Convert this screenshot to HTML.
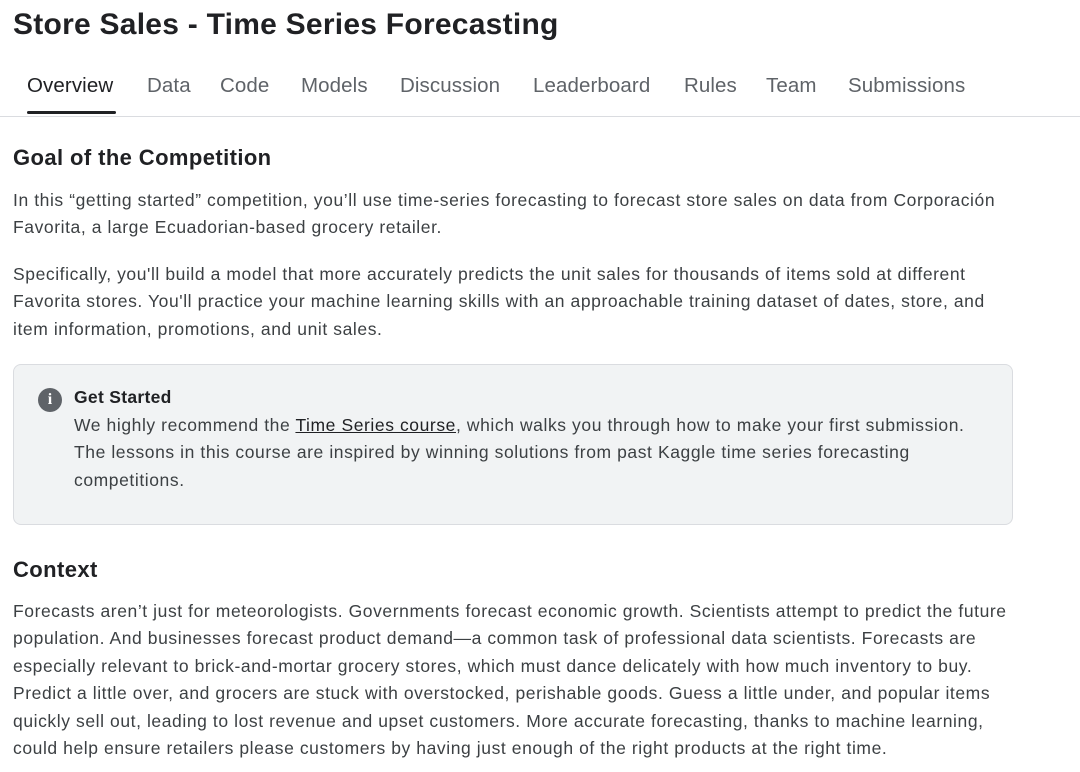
<!DOCTYPE html>
<html><head><meta charset="utf-8"><style>
body{margin:0;width:1080px;height:772px;overflow:hidden;background:#fff;font-family:"Liberation Sans",sans-serif;color:#202124}
h1{position:absolute;left:13px;top:8px;margin:0;font-size:30px;font-weight:bold;letter-spacing:0.25px;white-space:nowrap}
.tabs{position:absolute;left:0;top:70px;width:1080px;height:46px;border-bottom:1px solid #dadce0}
.tab{position:absolute;top:4px;font-size:20.5px;color:#5f6368;letter-spacing:0.1px}
.tab.active{color:#202124}
.ul{position:absolute;left:27px;top:41px;width:89px;height:3px;background:#202124;border-radius:2px}
h2{position:absolute;left:13px;margin:0;font-size:22px;font-weight:bold;letter-spacing:0.4px}
p{position:absolute;left:13px;margin:0;font-size:17.5px;line-height:27.4px;color:#3c4043;white-space:nowrap;letter-spacing:0.58px}
.box{position:absolute;left:13px;top:364px;width:998px;height:159px;background:#f1f3f4;border:1px solid #dadce0;border-radius:8px}
.icon{position:absolute;left:24px;top:23px;width:24px;height:24px;border-radius:50%;background:#5f6368;color:#fff;font-weight:bold;font-size:16px;text-align:center;line-height:24px;font-family:"Liberation Serif",serif}
.box b{position:absolute;left:60px;top:22px;font-size:17.5px;letter-spacing:0.3px}
.box p{left:60px;top:47px}
a{color:#202124;text-decoration:underline}
</style></head><body>
<h1>Store Sales - Time Series Forecasting</h1>
<div class="tabs">
<span class="tab active" style="left:27px">Overview</span>
<span class="tab" style="left:147px">Data</span>
<span class="tab" style="left:220px">Code</span>
<span class="tab" style="left:301px">Models</span>
<span class="tab" style="left:400px">Discussion</span>
<span class="tab" style="left:533px">Leaderboard</span>
<span class="tab" style="left:684px">Rules</span>
<span class="tab" style="left:766px">Team</span>
<span class="tab" style="left:848px">Submissions</span>
<div class="ul"></div>
</div>
<h2 style="top:145px">Goal of the Competition</h2>
<p style="top:187px">In this “getting started” competition, you’ll use time-series forecasting to forecast store sales on data from Corporación<br>Favorita, a large Ecuadorian-based grocery retailer.</p>
<p style="top:261px">Specifically, you'll build a model that more accurately predicts the unit sales for thousands of items sold at different<br>Favorita stores. You'll practice your machine learning skills with an approachable training dataset of dates, store, and<br>item information, promotions, and unit sales.</p>
<div class="box">
<div class="icon">i</div>
<b>Get Started</b>
<p>We highly recommend the <a>Time Series course</a>, which walks you through how to make your first submission.<br>The lessons in this course are inspired by winning solutions from past Kaggle time series forecasting<br>competitions.</p>
</div>
<h2 style="top:557px">Context</h2>
<p style="top:598px">Forecasts aren’t just for meteorologists. Governments forecast economic growth. Scientists attempt to predict the future<br>population. And businesses forecast product demand—a common task of professional data scientists. Forecasts are<br>especially relevant to brick-and-mortar grocery stores, which must dance delicately with how much inventory to buy.<br>Predict a little over, and grocers are stuck with overstocked, perishable goods. Guess a little under, and popular items<br>quickly sell out, leading to lost revenue and upset customers. More accurate forecasting, thanks to machine learning,<br>could help ensure retailers please customers by having just enough of the right products at the right time.</p>
</body></html>
